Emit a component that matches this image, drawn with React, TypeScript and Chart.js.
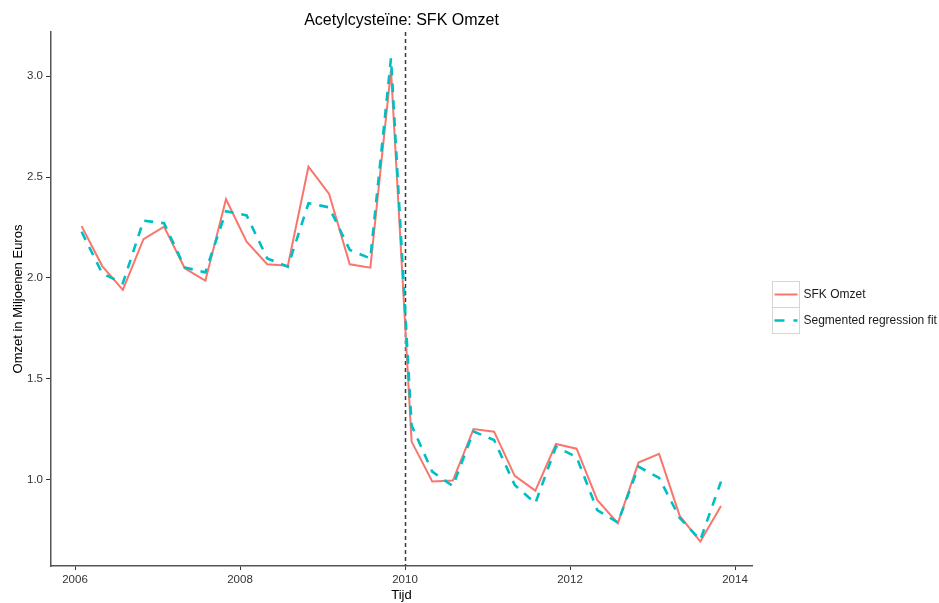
import React, { useEffect, useRef } from "react";
import { Chart, registerables } from "chart.js";

Chart.register(...registerables);

const FONT = "'Liberation Sans', Arial, sans-serif";

// Quarterly observation times (decimal years)
const times = [
  2006.08, 2006.33, 2006.58, 2006.83,
  2007.08, 2007.33, 2007.58, 2007.83,
  2008.08, 2008.33, 2008.58, 2008.83,
  2009.08, 2009.33, 2009.58, 2009.83,
  2010.08, 2010.33, 2010.58, 2010.83,
  2011.08, 2011.33, 2011.58, 2011.83,
  2012.08, 2012.33, 2012.58, 2012.83,
  2013.08, 2013.33, 2013.58, 2013.83,
];

const sfkOmzet = [
  2.257, 2.059, 1.941, 2.192,
  2.254, 2.048, 1.987, 2.39,
  2.18, 2.068, 2.061, 2.551,
  2.416, 2.068, 2.051, 3.03,
  1.19, 0.992, 0.997, 1.252,
  1.239, 1.02, 0.947, 1.178,
  1.155, 0.901, 0.786, 1.086,
  1.129, 0.822, 0.695, 0.871,
];

const segmentedFit = [
  2.229, 2.023, 1.974, 2.284,
  2.271, 2.052, 2.028, 2.33,
  2.31, 2.097, 2.056, 2.37,
  2.35, 2.139, 2.097, 3.088,
  1.27, 1.041, 0.97, 1.24,
  1.198, 0.975, 0.885, 1.165,
  1.113, 0.851, 0.789, 1.066,
  1.01, 0.812, 0.703, 0.992,
];

const xTicks = [2006, 2008, 2010, 2012, 2014];
const yTicks = [1.0, 1.5, 2.0, 2.5, 3.0];
const interventionYear = 2010;

const seriesNames = ["SFK Omzet", "Segmented regression fit"];
const seriesColors = ["#F8766D", "#00BFC4"];

const legendPlugin = {
  id: "customLegend",
  afterDraw(chart: any) {
    const ctx = chart.ctx;
    ctx.save();
    const bx = 772.5;
    const by = 281.5;
    const kw = 27;
    const kh = 26;
    ctx.fillStyle = "#ffffff";
    ctx.fillRect(bx, by, kw, kh * 2);
    ctx.strokeStyle = "#d6d6d6";
    ctx.lineWidth = 1;
    ctx.strokeRect(bx, by, kw, kh);
    ctx.strokeRect(bx, by + kh, kw, kh);
    // red key
    ctx.strokeStyle = seriesColors[0];
    ctx.lineWidth = 2;
    ctx.setLineDash([]);
    ctx.beginPath();
    ctx.moveTo(bx + 2, by + kh / 2);
    ctx.lineTo(bx + kw - 2, by + kh / 2);
    ctx.stroke();
    // teal key
    ctx.strokeStyle = seriesColors[1];
    ctx.lineWidth = 2.6;
    ctx.setLineDash([10, 9]);
    ctx.beginPath();
    ctx.moveTo(bx + 2, by + kh + kh / 2);
    ctx.lineTo(bx + kw - 2, by + kh + kh / 2);
    ctx.stroke();
    ctx.setLineDash([]);
    ctx.fillStyle = "#1a1a1a";
    ctx.font = `12px ${FONT}`;
    ctx.textBaseline = "middle";
    ctx.textAlign = "left";
    ctx.fillText(seriesNames[0], bx + kw + 4, by + kh / 2 + 0.5);
    ctx.fillText(seriesNames[1], bx + kw + 4, by + kh + kh / 2 + 0.5);
    ctx.restore();
  },
};

const vlinePlugin = {
  id: "vline",
  beforeDatasetsDraw(chart: any) {
    const ctx = chart.ctx;
    const xs = chart.scales.x;
    const area = chart.chartArea;
    const px = Math.round(xs.getPixelForValue(interventionYear)) + 0.5;
    ctx.save();
    ctx.strokeStyle = "#3a3a3a";
    ctx.lineWidth = 1.5;
    ctx.setLineDash([4, 3]);
    ctx.beginPath();
    ctx.moveTo(px, area.top);
    ctx.lineTo(px, area.bottom);
    ctx.stroke();
    ctx.restore();
  },
};

export default function App() {
  const ref = useRef<HTMLCanvasElement | null>(null);

  useEffect(() => {
    if (!ref.current) return;
    const chart = new Chart(ref.current, {
      type: "line",
      data: {
        datasets: [
          {
            label: seriesNames[0],
            data: times.map((t, i) => ({ x: t, y: sfkOmzet[i] })),
            borderColor: seriesColors[0],
            backgroundColor: seriesColors[0],
            borderWidth: 2,
            pointRadius: 0,
            tension: 0,
            order: 1,
          },
          {
            label: seriesNames[1],
            data: times.map((t, i) => ({ x: t, y: segmentedFit[i] })),
            borderColor: seriesColors[1],
            backgroundColor: seriesColors[1],
            borderWidth: 2.6,
            borderDash: [9, 8],
            pointRadius: 0,
            tension: 0,
            order: 0,
          },
        ],
      },
      options: {
        animation: false,
        responsive: false,
        maintainAspectRatio: false,
        layout: { padding: { left: 0, right: 187, top: 0, bottom: 0 } },
        plugins: {
          legend: { display: false },
          tooltip: { enabled: false },
          title: {
            display: true,
            text: "Acetylcysteïne: SFK Omzet",
            fullSize: false,
            color: "#000000",
            font: { family: FONT, size: 16, weight: "normal" },
            padding: { top: 11, bottom: 1.8 },
          },
        },
        scales: {
          x: {
            type: "linear",
            min: 2005.709,
            max: 2014.206,
            afterBuildTicks: (s: any) => {
              s.ticks = xTicks.map((v) => ({ value: v }));
            },
            afterFit: (s: any) => {
              s.height = 37;
            },
            ticks: {
              callback: (v: any) => String(v),
              color: "#333333",
              font: { family: FONT, size: 11.5 },
              padding: 3,
              maxRotation: 0,
              autoSkip: false,
            },
            grid: {
              display: true,
              drawOnChartArea: false,
              drawTicks: true,
              tickLength: 4,
              color: "#333333",
            },
            border: { display: true, color: "#555555", width: 1.5 },
            title: {
              display: true,
              text: "Tijd",
              color: "#000000",
              font: { family: FONT, size: 13 },
              padding: 0,
            },
          },
          y: {
            type: "linear",
            min: 0.574,
            max: 3.218,
            afterBuildTicks: (s: any) => {
              s.ticks = yTicks.map((v) => ({ value: v }));
            },
            afterFit: (s: any) => {
              s.width = 51;
            },
            ticks: {
              callback: (v: any) => Number(v).toFixed(1),
              color: "#333333",
              font: { family: FONT, size: 11.5 },
              padding: 3,
              autoSkip: false,
            },
            grid: {
              display: true,
              drawOnChartArea: false,
              drawTicks: true,
              tickLength: 5,
              color: "#333333",
            },
            border: { display: true, color: "#555555", width: 1.5 },
            title: {
              display: true,
              text: "Omzet in Miljoenen Euros",
              color: "#000000",
              font: { family: FONT, size: 13 },
              padding: { top: 11, bottom: 0 },
            },
          },
        },
      },
      plugins: [vlinePlugin, legendPlugin],
    } as any);
    return () => chart.destroy();
  }, []);

  return (
    <div style={{ position: "absolute", left: 0, top: 0, width: 939, height: 603, background: "#ffffff" }}>
      <canvas ref={ref} width={939} height={603} style={{ display: "block", width: 939, height: 603 }} />
    </div>
  );
}
